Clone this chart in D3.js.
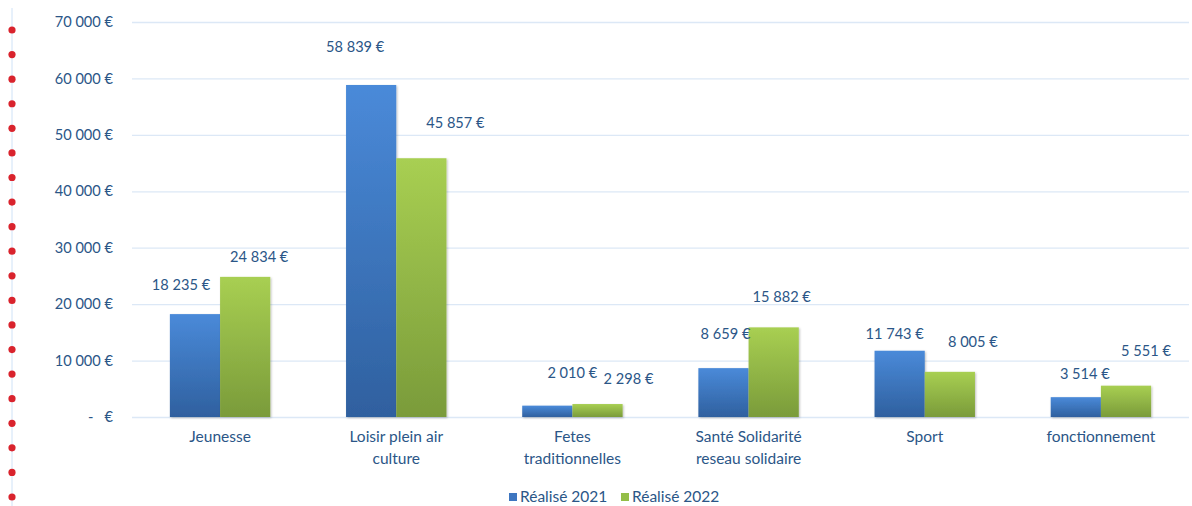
<!DOCTYPE html>
<html>
  <head>
    <meta charset="utf-8">
    <title>Réalisé 2021 / 2022</title>
    <script src="https://d3js.org/d3.v7.min.js"></script>
    <style>
      body { margin: 0; background: #fff; }
      text { font-family: Lato, "Open Sans", sans-serif; fill: #2B5687; }
    </style>
  </head>
  <body>
    <div id="chart"></div>
    <script>
      // chart data
      var categories = [["Jeunesse"], ["Loisir plein air", "culture"], ["Fetes", "traditionnelles"],
                        ["Santé Solidarité", "reseau solidaire"], ["Sport"], ["fonctionnement"]];
      var series = ["Réalisé 2021", "Réalisé 2022"];
      var values2021 = [18235, 58839, 2010, 8659, 11743, 3514];
      var values2022 = [24834, 45857, 2298, 15882, 8005, 5551];
      var yTicks = [0, 10000, 20000, 30000, 40000, 50000, 60000, 70000];

      // label nudges (dx, dy) from bar top centre, labels were hand-placed in the original
      var labelNudge2021 = [[-14, -29], [-16, -38], [25, -33], [2, -34], [-5, -17], [9, -23]];
      var labelNudge2022 = [[14, -20], [34, -35], [31, -25], [8, -30], [23, -30], [20, -35]];

      var width = 1192, height = 506;
      var margin = {top: 22, right: 3, bottom: 89, left: 132};

      var svg = d3.select("#chart").append("svg")
        .attr("width", width).attr("height", height);

      var defs = svg.append("defs");
      function grad(id, c1, c2) {
        var g = defs.append("linearGradient").attr("id", id)
          .attr("x1", 0).attr("y1", 0).attr("x2", 0).attr("y2", 1);
        g.append("stop").attr("offset", "0%").attr("stop-color", c1);
        g.append("stop").attr("offset", "100%").attr("stop-color", c2);
      }
      grad("gBlue", "#4A8AD9", "#2F609F");
      grad("gGreen", "#A8CF52", "#7A9B3A");
      var f = defs.append("filter").attr("id", "shadow").attr("x", "-10%").attr("y", "-10%")
        .attr("width", "130%").attr("height", "130%");
      f.append("feDropShadow").attr("dx", 1).attr("dy", 1).attr("stdDeviation", 1)
        .attr("flood-color", "#000").attr("flood-opacity", 0.25);

      // red dotted margin line
      svg.append("line").attr("x1", 12).attr("x2", 12).attr("y1", 8).attr("y2", height)
        .attr("stroke", "#CFE2F7").attr("stroke-width", 1);
      svg.selectAll(".dot").data(d3.range(20)).enter().append("circle")
        .attr("cx", 12).attr("cy", function(i) { return 30 + i * 24.58; })
        .attr("r", 3.6).attr("fill", "#D9232D");

      var x = d3.scaleBand().domain(d3.range(categories.length))
        .range([margin.left, width - margin.right]).paddingInner(0.43).paddingOuter(0.215);
      var y = d3.scaleLinear().domain([0, 70000]).range([height - margin.bottom, margin.top]);

      var fmt = function(v) { return d3.format(",")(v).replace(/,/g, " ") + " €"; };

      // gridlines
      svg.selectAll(".grid").data(yTicks).enter().append("line")
        .attr("x1", margin.left).attr("x2", width - margin.right)
        .attr("y1", function(d) { return y(d) + 0.5; }).attr("y2", function(d) { return y(d) + 0.5; })
        .attr("stroke", "#DCE8F6").attr("stroke-width", 1.3);

      // y axis labels
      var yAxis = d3.axisLeft(y).tickValues(yTicks).tickSize(0).tickPadding(0)
        .tickFormat(function(d) { return d === 0 ? "-   €" : fmt(d); });
      var ya = svg.append("g").attr("transform", "translate(113,0)").call(yAxis);
      ya.select(".domain").remove();
      ya.selectAll("text").style("font-family", "Lato, sans-serif").style("font-size", "14.6px")
        .attr("fill", "#2B5687").style("white-space", "pre");

      var sub = d3.scaleBand().domain([0, 1]).range([0, x.bandwidth()]);

      var rows = categories.map(function(c, i) {
        return [{i: i, s: 0, v: values2021[i], n: labelNudge2021[i]},
                {i: i, s: 1, v: values2022[i], n: labelNudge2022[i]}];
      });

      var groups = svg.selectAll(".cat").data(rows).enter().append("g")
        .attr("transform", function(d, i) { return "translate(" + x(i) + ",0)"; });

      groups.selectAll("rect").data(function(d) { return d; }).enter().append("rect")
        .attr("x", function(d) { return sub(d.s); })
        .attr("width", sub.bandwidth())
        .attr("y", function(d) { return y(d.v); })
        .attr("height", function(d) { return y(0) - y(d.v); })
        .attr("fill", function(d) { return d.s ? "url(#gGreen)" : "url(#gBlue)"; })
        .attr("filter", "url(#shadow)");

      groups.selectAll(".lbl").data(function(d) { return d; }).enter().append("text")
        .attr("x", function(d) { return sub(d.s) + sub.bandwidth() / 2 + d.n[0]; })
        .attr("y", function(d) { return y(d.v) + d.n[1]; })
        .attr("dy", "0.35em").attr("text-anchor", "middle")
        .style("font-size", "14.6px")
        .text(function(d) { return fmt(d.v); });

      // category labels
      var cat = svg.selectAll(".catlbl").data(categories).enter().append("text")
        .attr("x", function(d, i) { return x(i) + x.bandwidth() / 2; })
        .attr("y", 442).attr("text-anchor", "middle").style("font-size", "15.5px");
      cat.selectAll("tspan").data(function(d) { return d; }).enter().append("tspan")
        .attr("x", function() { return this.parentNode.getAttribute("x"); })
        .attr("dy", function(d, i) { return i ? 22 : 0; })
        .text(function(d) { return d; });

      // legend
      var legend = svg.append("g").attr("transform", "translate(509,497)");
      var lx = [0, 112];
      series.forEach(function(s, i) {
        legend.append("rect").attr("x", lx[i]).attr("y", -4).attr("width", 8).attr("height", 8)
          .attr("fill", i ? "#94BE48" : "#3E76C0");
        legend.append("text").attr("x", lx[i] + 11).attr("y", 0).attr("dy", "0.35em")
          .style("font-size", "15.5px").text(s);
      });
    </script>
  </body>
</html>
